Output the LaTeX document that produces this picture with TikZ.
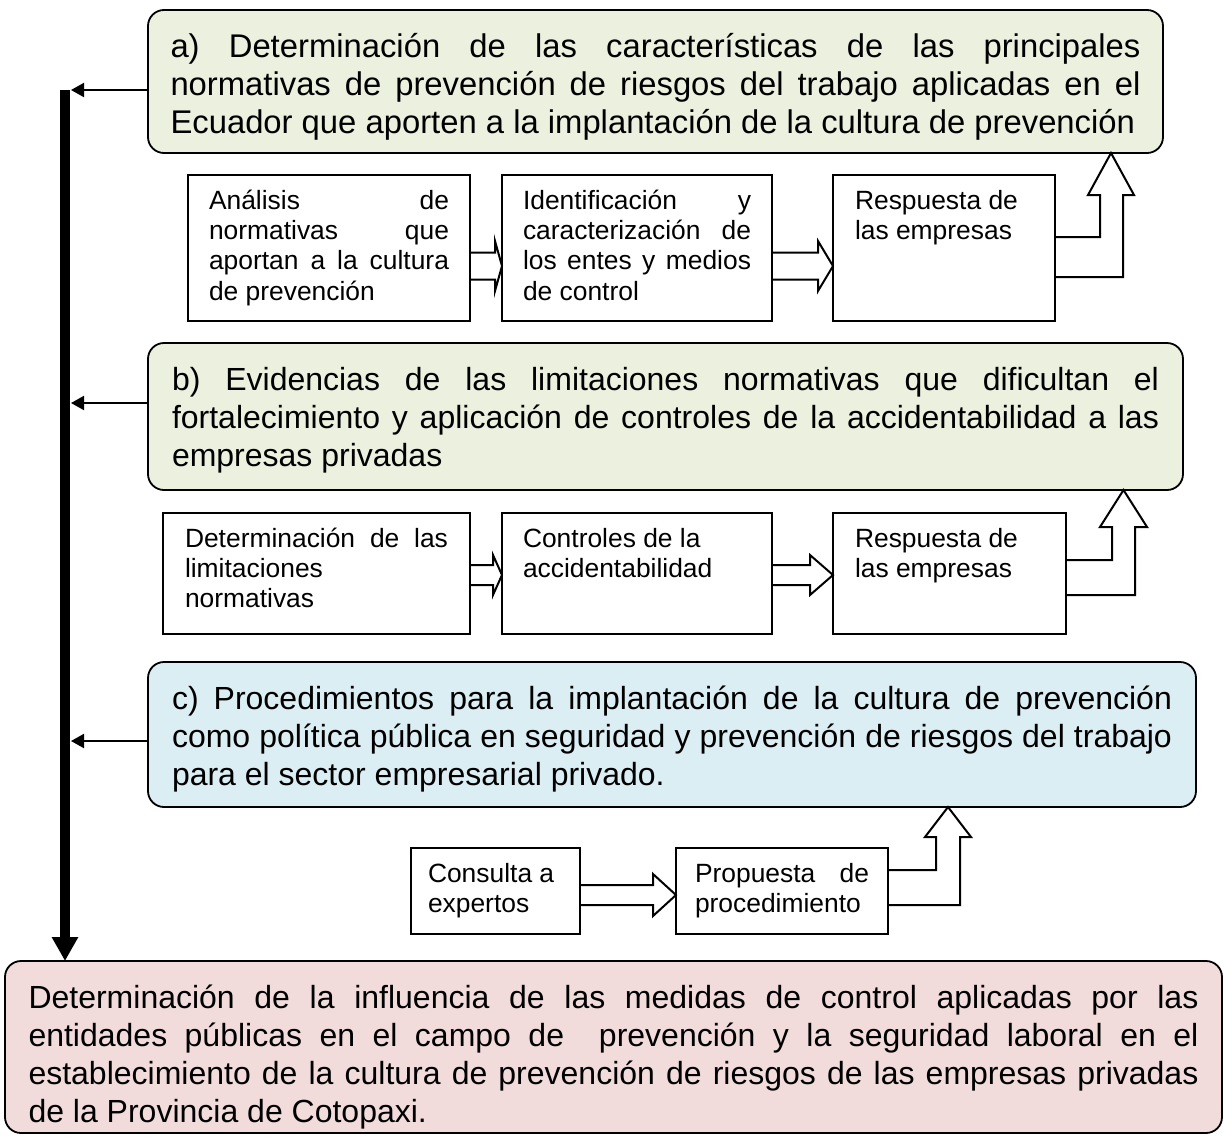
\documentclass[tikz,border=0pt]{standalone}
\usepackage{fontspec}
\setmainfont{Liberation Sans}
\usetikzlibrary{arrows.meta}
\definecolor{boxgreen}{HTML}{EBF1DE}
\definecolor{boxblue}{HTML}{DBEEF4}
\definecolor{boxpink}{HTML}{F2DCDB}
\newcommand\bigfnt{\fontsize{32}{38}\selectfont}
\newcommand\bigafnt{\fontsize{32.8}{38}\selectfont}
\newcommand\smlfnt{\fontsize{26.4}{30.4}\selectfont}
\newcommand\jl[1]{\makebox[\linewidth][s]{#1}}
\newcommand\rblk[6]{%
  \coordinate (ua) at (0,#3-#4);
  \coordinate (ub) at (0,#3+#4);
  \coordinate (uc) at (0,#3-#5);
  \coordinate (ud) at (0,#3+#5);
  \coordinate (ue) at (0,#3);
  \coordinate (uf) at (#6,0);
  \draw[blockarrow] (#1.east |- ua) -- (uf |- ua) -- (uf |- uc) -- (#2.west |- ue) -- (uf |- ud) -- (uf |- ub) -- (#1.east |- ub);
}
\newcommand\bentup[9]{%
  \coordinate (va) at (#5,#3);
  \coordinate (vb) at (#6,#4);
  \coordinate (vc) at (#5,#9);
  \coordinate (vd) at (#7,#9);
  \coordinate (ve) at (#8,#9);
  \coordinate (vf) at (#6,#9);
  \coordinate (vg) at ({(#7+#8)/2},0);
  \draw[blockarrow] (#1.east |- va) -- (va) -- (vc) -- (vd) -- (#2.south -| vg) -- (ve) -- (vf) -- (vb) -- (#1.east |- vb);
}
\begin{document}
\begin{tikzpicture}[x=1pt,y=-1pt,
  bigbox/.style={draw, line width=1.8pt, rounded corners=16pt, anchor=north west, inner sep=0pt, outer sep=0pt, text height=47pt, font=\bigfnt},
  smallbox/.style={draw, line width=2pt, anchor=north west, inner sep=0pt, outer sep=0pt, text height=34pt, font=\smlfnt, fill=white},
  blockarrow/.style={draw, line width=2pt, line join=miter},
  feed/.style={line width=2pt, -{Triangle[length=13pt,width=14pt]}},
  spine/.style={line width=10pt, -{Triangle[length=24pt,width=25pt]}}]
\fill[white] (0,0) rectangle (1225,1138);
\useasboundingbox (0,0) rectangle (1225,1138);

% main boxes
\node[bigbox, font=\bigafnt, fill=boxgreen, minimum width=1015pt, text depth=96pt] (A) at (148,10)
 {\parbox[t]{970pt}{\jl{a) Determinación de las características de las principales}\\
 \jl{normativas de prevención de riesgos del trabajo aplicadas en el}\\
 Ecuador que aporten a la implantación de la cultura de prevención}};
\node[bigbox, fill=boxgreen, minimum width=1035pt, text depth=100pt] (B) at (148,343)
 {\parbox[t]{987pt}{\jl{b) Evidencias de las limitaciones normativas que dificultan el}\\
 \jl{fortalecimiento y aplicación de controles de la accidentabilidad a las}\\
 empresas privadas}};
\node[bigbox, fill=boxblue, minimum width=1048pt, text depth=98pt] (C) at (148,662)
 {\parbox[t]{1000pt}{\jl{c) Procedimientos para la implantación de la cultura de prevención}\\
 \jl{como política pública en seguridad y prevención de riesgos del trabajo}\\
 para el sector empresarial privado.}};
\node[bigbox, fill=boxpink, minimum width=1217pt, text depth=125pt] (D) at (5,961)
 {\parbox[t]{1170pt}{\jl{Determinación de la influencia de las medidas de control aplicadas por las}\\
 \jl{entidades públicas en el campo de \ prevención y la seguridad laboral en el}\\
 \jl{establecimiento de la cultura de prevención de riesgos de las empresas privadas}\\
 de la Provincia de Cotopaxi.}};

% row 1
\node[smallbox, minimum width=282pt, text depth=112pt] (r1a) at (188,175)
 {\parbox[t]{240pt}{\jl{Análisis de}\\ \jl{normativas que}\\ \jl{aportan a la cultura}\\ de prevención}};
\node[smallbox, minimum width=270pt, text depth=112pt] (r1b) at (502,175)
 {\parbox[t]{228pt}{\jl{Identificación y}\\ \jl{caracterización de}\\ \jl{los entes y medios}\\ de control}};
\node[smallbox, minimum width=222pt, text depth=112pt] (r1c) at (833,175)
 {\parbox[t]{178pt}{Respuesta de\\ las empresas}};

% row 2
\node[smallbox, minimum width=307pt, text depth=87pt] (r2a) at (163,513)
 {\parbox[t]{263pt}{\jl{Determinación de las}\\ limitaciones\\ normativas}};
\node[smallbox, minimum width=270pt, text depth=87pt] (r2b) at (502,513)
 {\parbox[t]{228pt}{Controles de la\\ accidentabilidad}};
\node[smallbox, minimum width=233pt, text depth=87pt] (r2c) at (833,513)
 {\parbox[t]{189pt}{Respuesta de\\ las empresas}};

% row 3
\node[smallbox, minimum width=169pt, text depth=52pt] (r3a) at (411,848)
 {\parbox[t]{135pt}{Consulta a\\ expertos}};
\node[smallbox, minimum width=212pt, text depth=52pt] (r3b) at (676,848)
 {\parbox[t]{174pt}{\jl{Propuesta de}\\ procedimiento}};

% block arrows between small boxes
\rblk{r1a}{r1b}{266}{13.5}{25}{495}
\rblk{r1b}{r1c}{266}{13.5}{25}{818}
\rblk{r2a}{r2b}{575}{10}{20}{493}
\rblk{r2b}{r2c}{575}{10}{20}{810}
\rblk{r3a}{r3b}{895}{10}{21}{653}

% bent up arrows
\bentup{r1c}{A}{237}{277}{1100}{1123}{1088}{1134}{195}
\bentup{r2c}{B}{560}{595}{1112}{1135}{1100}{1147}{527}
\bentup{r3b}{C}{870}{905}{936}{960}{925}{971}{837}

% spine
\coordinate (spinetop) at (65,90);
\coordinate (spineedge) at (71,0);
\draw[spine] (spinetop) -- (D.north -| spinetop);
\coordinate (fa) at (0,90);
\coordinate (fb) at (0,403);
\coordinate (fc) at (0,741);
\draw[feed] (A.west |- fa) -- (spineedge |- fa);
\draw[feed] (B.west |- fb) -- (spineedge |- fb);
\draw[feed] (C.west |- fc) -- (spineedge |- fc);
\end{tikzpicture}
\end{document}
